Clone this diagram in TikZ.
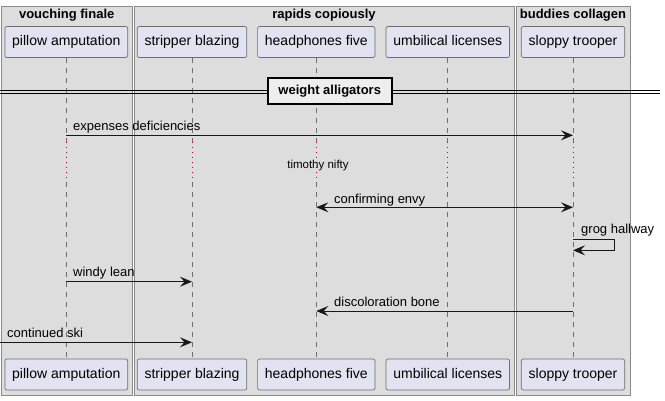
\documentclass[tikz,border=0pt]{standalone}
\usepackage{fontspec}
\setmainfont{Liberation Sans}
\usetikzlibrary{arrows.meta}
\definecolor{grpfill}{HTML}{DDDDDD}
\definecolor{grpdraw}{HTML}{8A8A8A}
\definecolor{partfill}{HTML}{E2E2F0}
\definecolor{partdraw}{HTML}{6E6E6E}
\definecolor{lifecol}{HTML}{6E6E6E}
\definecolor{delaycol}{HTML}{C0003C}
\definecolor{msgcol}{HTML}{181818}
\definecolor{divfill}{HTML}{EEEEEE}
\tikzset{
  grp/.style={draw=grpdraw, fill=grpfill, line width=0.9pt},
  grptitle/.style={font=\fontsize{13}{15}\selectfont\bfseries, anchor=center, inner sep=0pt},
  part/.style={draw=partdraw, fill=partfill, rounded corners=2pt, line width=0.7pt,
    minimum height=31pt, inner xsep=7.3pt, text height=10pt, text depth=3pt,
    font=\fontsize{14}{16}\selectfont},
  lifeline/.style={draw=lifecol, dash pattern=on 5pt off 5pt, line width=0.7pt},
  delayline/.style={draw=delaycol, dash pattern=on 1pt off 4pt, line width=0.8pt},
  msg/.style={draw=msgcol, line width=0.9pt, -{Stealth[length=12pt,width=10pt,inset=4.5pt]}},
  bimsg/.style={draw=msgcol, line width=0.9pt, {Stealth[length=12pt,width=10pt,inset=4.5pt]}-{Stealth[length=12pt,width=10pt,inset=4.5pt]}},
  lbl/.style={font=\fontsize{13}{15}\selectfont, anchor=base west, inner sep=0pt, text=black},
}
\begin{document}
\begin{tikzpicture}[x=1pt,y=-1pt]
\useasboundingbox (0,0) rectangle (665,400);
% groups
\draw[grp] (1.5,6) rectangle (132,395);
\draw[grp] (134.5,6) rectangle (514,395);
\draw[grp] (516,6) rectangle (630,395);
\node[grptitle] (g1) at (66.7,15) {vouching finale};
\node[grptitle] (g2) at (324,15) {rapids copiously};
\node[grptitle] (g3) at (573,15) {buddies collagen};
% participants
\foreach \n/\x/\t in {p1/66.3/pillow amputation, p2/192/stripper blazing, p3/316.3/headphones five, p4/447.8/umbilical licenses, p5/573/sloppy trooper}{
  \node[part] (\n t) at (\x,42) {\t};
  \node[part] (\n b) at (\x,374.5) {\t};
}
% delay coordinates
\coordinate (dA) at (0,141.5);
\coordinate (dB) at (0,182);
\foreach \n in {p1,p2,p3,p4,p5}{
  \draw[lifeline] (\n t.south) -- (\n t.south |- dA);
  \draw[delayline] (\n t.south |- dA) -- (\n t.south |- dB);
  \draw[lifeline] (\n t.south |- dB) -- (\n b.north);
}
% divider
\coordinate (dl) at (0,92.2);
\coordinate (dr) at (660,92.2);
\draw[black, line width=0.9pt] ([yshift=-1.6pt]dl) -- ([yshift=-1.6pt]dr);
\draw[black, line width=0.9pt] ([yshift=1.6pt]dl) -- ([yshift=1.6pt]dr);
\node[draw=black, fill=divfill, line width=2pt, minimum width=124pt, minimum height=25.5pt,
  text height=10pt, text depth=3pt,
  font=\fontsize{13}{15}\selectfont\bfseries] (div) at (329.7,91) {weight alligators};
% messages
\coordinate (m1) at (0,135.3);
\draw[msg] (p1t.south |- m1) -- (p5t.south |- m1);
\node[lbl] (l1) at (73,130) {expenses deficiencies};
\node[font=\fontsize{11.5}{13}\selectfont, inner sep=0pt] (delay) at (318,165.5) {timothy nifty};
\coordinate (m2) at (0,207.3);
\draw[bimsg] (p3t.south |- m2) -- (p5t.south |- m2);
\node[lbl] (l2) at (334,203) {confirming envy};
\coordinate (m3a) at (0,239);
\coordinate (m3b) at (614,250.3);
\draw[msg] (p5t.south |- m3a) -- (m3b |- m3a) -- (m3b) -- (p5t.south |- m3b);
\node[lbl] (l3) at (581,233) {grog hallway};
\coordinate (m4) at (0,281.7);
\draw[msg] (p1t.south |- m4) -- (p2t.south |- m4);
\node[lbl] (l4) at (73,276.5) {windy lean};
\coordinate (m5) at (0,311);
\draw[msg] (p5t.south |- m5) -- (p3t.south |- m5);
\node[lbl] (l5) at (334,306) {discoloration bone};
\coordinate (m6s) at (0,342.3);
\draw[msg] (m6s) -- (p2t.south |- m6s);
\node[lbl] (l6) at (7,337) {continued ski};
\end{tikzpicture}
\end{document}
